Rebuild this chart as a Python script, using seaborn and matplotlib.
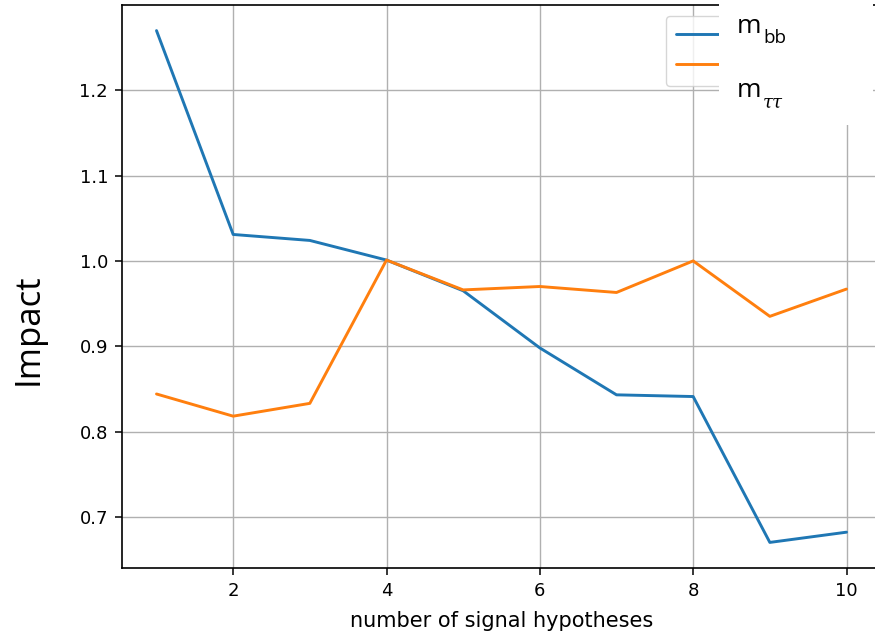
import matplotlib
matplotlib.use("Agg")
import matplotlib.pyplot as plt
from matplotlib.patches import Rectangle
import pandas as pd
import seaborn as sns

# valores
n_hipotesis = [1, 2, 3, 4, 5, 6, 7, 8, 9, 10]
impacto_mbb = [1.270, 1.031, 1.024, 1.001, 0.965, 0.898, 0.843, 0.841, 0.670, 0.682]
impacto_mtautau = [0.844, 0.818, 0.833, 1.001, 0.966, 0.970, 0.963, 1.000, 0.935, 0.967]

AZUL = "#1f77b4"
NARANJA = "#ff7f0e"

sns.set_style("ticks", {"axes.grid": True, "grid.color": "#b0b0b0",
                        "axes.edgecolor": "black", "text.color": "black",
                        "axes.labelcolor": "black", "xtick.color": "black",
                        "ytick.color": "black"})
plt.rcParams["font.family"] = ["DejaVu Sans"]

W, H = 875, 635
fig = plt.figure(figsize=(W / 100, H / 100), dpi=100)
ax = fig.add_axes([122 / W, 1 - 568 / H, (881 - 122) / W, (568 - 5) / H])

df = pd.DataFrame({"n": n_hipotesis, "mbb": impacto_mbb, "mtt": impacto_mtautau})
sns.lineplot(data=df, x="n", y="mbb", color=AZUL, lw=2.1, label=r"$m_{bb}$", ax=ax)
sns.lineplot(data=df, x="n", y="mtt", color=NARANJA, lw=2.1, label=r"$m_{\tau\tau}$", ax=ax)

ax.grid(True, color="#b0b0b0", lw=1.0)
for s in ax.spines.values():
    s.set_linewidth(1.2)
ax.tick_params(axis="both", labelsize=13, length=5, width=1.1, pad=5, color="black")
ax.set_xticks([2, 4, 6, 8, 10])
ax.set_yticks([0.7, 0.8, 0.9, 1.0, 1.1, 1.2])
ax.set_ylabel("")
ax.set_xlabel("number of signal hypotheses", fontsize=15, labelpad=8)

leyenda = ax.legend(loc="upper left", bbox_to_anchor=(666 / W, 1 - 16 / H),
                    bbox_transform=fig.transFigure, borderaxespad=0, fontsize=13,
                    handlelength=3.5, labelspacing=0.65, borderpad=0.55,
                    frameon=True, fancybox=True, edgecolor="0.8", framealpha=0.8)
# las etiquetas de la leyenda quedan tapadas; se dibujan aparte más grandes
for t in leyenda.get_texts():
    t.set_visible(False)

# parche blanco con las etiquetas grandes de la leyenda
fig.add_artist(Rectangle((719 / W, 1 - 125 / H), (873 - 719) / W, 125 / H,
                         transform=fig.transFigure, facecolor="white",
                         edgecolor="none", zorder=10))
fig.text(737 / W, 1 - 33 / H, "m", fontsize=19, family="Open Sans",
         va="baseline", ha="left", zorder=11)
fig.text(763 / W, 1 - 43 / H, "bb", fontsize=13.5, family="Open Sans",
         va="baseline", ha="left", zorder=11)
fig.text(737 / W, 1 - 97 / H, "m", fontsize=19, family="Open Sans",
         va="baseline", ha="left", zorder=11)
fig.text(763 / W, 1 - 108 / H, "ττ", fontsize=13, family="DejaVu Serif",
         style="italic", va="baseline", ha="left", zorder=11)

fig.text(29 / W, 1 - 329 / H, "Impact", fontsize=25, family="Open Sans",
         rotation=90, ha="center", va="center")

fig.savefig("out.png", dpi=100)
